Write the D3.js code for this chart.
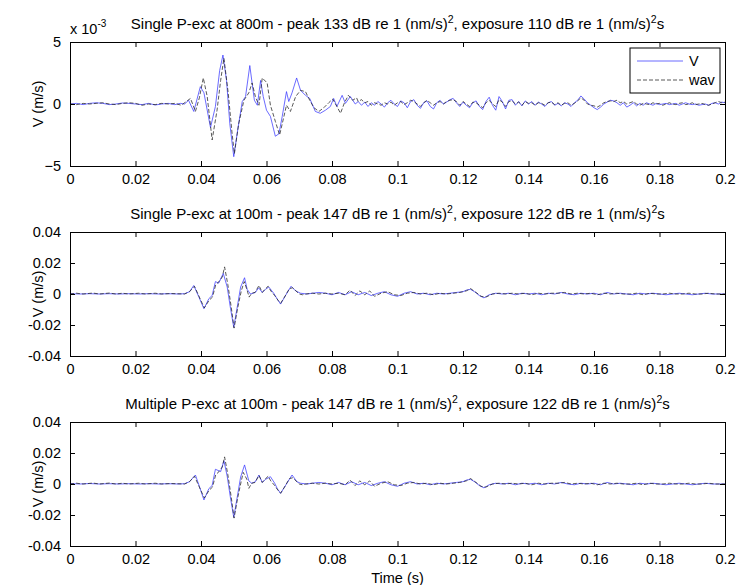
<!DOCTYPE html>
<html><head><meta charset="utf-8">
<script src="https://cdn.jsdelivr.net/npm/d3@7"></script>
<style>body{margin:0;background:#fff} text{font-family:"Liberation Sans",Arial,sans-serif;fill:#000}</style>
</head><body><svg id="c" width="739" height="585"></svg>
<script>
// ---------- tick labels / text ----------
const xTicks = [0, 0.02, 0.04, 0.06, 0.08, 0.1, 0.12, 0.14, 0.16, 0.18, 0.2];
const yTicksPanel1 = [-5e-3, 0, 5e-3];
const yTicksPanel23 = [-0.04, -0.02, 0, 0.02, 0.04];
const titles = [
  "Single P-exc at 800m - peak 133 dB re 1 (nm/s)^2, exposure 110 dB re 1 (nm/s)^2s",
  "Single P-exc at 100m - peak 147 dB re 1 (nm/s)^2, exposure 122 dB re 1 (nm/s)^2s",
  "Multiple P-exc at 100m - peak 147 dB re 1 (nm/s)^2, exposure 122 dB re 1 (nm/s)^2s"
];
const seriesNames = ["V", "wav"];

// ---------- data: [time in ms, velocity in 10^-3 m/s] ----------
const p1V = [[0,0],[2,0.05],[4,-0.05],[6,0.05],[8,0.1],[10,0.05],[12,-0.05],[14,0],[16,0.08],[18,0.05],[20,0],[22,-0.05],[24,0.05],[26,-0.08],[28,0],[30,0.05],[32,-0.05],[33.7,0.05],[35,0],[36.2,0.3],[37.8,-0.6],[39.8,1.4],[40.9,0.9],[42.9,-1.9],[44.4,-0.2],[45.7,2.7],[46.7,3.95],[47.8,1.9],[48.8,-1.6],[50.0,-4.25],[51.2,-2.1],[52.6,0.2],[53.6,0.6],[54.9,3.1],[55.6,1.7],[56.3,0.3],[57.2,-0.1],[58.2,1.9],[59.0,0.6],[60,-0.5],[61.2,-1.0],[62.7,-2.6],[63.8,-2.4],[64.8,-1.0],[66.1,1.0],[66.8,0.2],[67.8,0.9],[69.2,2.1],[70.4,1.1],[71.9,0.7],[73.2,0.45],[74.9,-0.6],[76.4,-0.75],[78,-0.5],[79.5,-0.2],[80.5,0.45],[81.5,-0.2],[83.1,0.7],[84.1,0.05],[85.6,0.6],[87.1,0],
[88,0.2],[89,-0.1],[90,0.15],[91,-0.2],[92,0.1],[93,-0.1],[94,0.2],[95,0],[96,-0.25],[97,0.1],[98,0.3],[99,0],[100,-0.2],[101,0.25],[102,0.1],[103,-0.3],[104,0.2],[105,0.35],[106,-0.1],[107,-0.35],[108,0.1],[109,0.25],[110,-0.2],[111,-0.4],[112,0.1],[113,0.3],[114,0],[115,0.15],[116,0.35],[117,0.45],[118,0.1],[119,-0.2],[120,0.15],[121,-0.1],[122,-0.3],[123,0.1],[124,0.25],[125,-0.2],[126,-0.45],[127,0.2],[128,0.55],[129,-0.1],[130,-0.5],[131,0.6],[132,0.2],[133,-0.4],[134,0.3],[135,0.35],[136,-0.1],[137,0.2],[138,-0.15],[139,0.25],[140,0],[141,0.2],[142,-0.1],[143,0.15],[144,0],[145,-0.2],[146,0.1],[147,0.2],[148,-0.1],[149,0.05],[150,-0.15],[151,0.1],[152,0],[153,-0.2],[154,0.1],[155,0.3],[156,0.65],[157,0.4],[158,0.1],[159,-0.1],[160,-0.3],[161,-0.45],[162,-0.25],[163,0],[164,0.15],[165,0.3],[166,0.25],[167,0.1],[168,-0.1],[169,0.1],[170,-0.25],[171,-0.1],[172,0.1],[173,-0.15],[174,0.05],[175,-0.1],[176,0.1],[177,0],[178,-0.1],[179,0.05],[180,-0.05],[181,0],[182,0.05],[183,-0.05],[184,0],[185,0.05],[186,-0.1],[187,0],[188,0.1],[189,0],[190,-0.05],[191,0],[192,-0.1],[193,-0.05],[194,0],[195,-0.1],[196,0.05],[197,0.1],[198,0],[199,0.15],[200,0.1]];

const p1Wav = [[0,0],[2,-0.05],[4,0.05],[6,0],[8,0.05],[10,0.1],[12,0],[14,-0.05],[16,0.05],[18,0.1],[20,0.05],[22,-0.1],[24,0],[26,-0.05],[28,0.05],[30,0],[32,0.05],[34,-0.1],[35.5,0.2],[36.8,0.45],[38.3,-0.6],[39.5,0.5],[40.7,2.1],[41.9,0.6],[43.4,-2.9],[44.9,-0.5],[46,1.9],[47.0,3.7],[48.3,0.9],[49.5,-2.4],[50.2,-4.0],[51.5,-1.6],[53.1,0.3],[54.6,0.9],[55.6,1.7],[56.6,0.6],[57.7,-0.1],[58.7,2.1],[60.2,1.7],[61.2,-0.1],[62.7,-1.4],[64,-2.5],[64.8,-1.6],[66.1,-0.1],[67.3,-0.6],[68.9,0.6],[70.4,1.1],[71.9,1.0],[73.2,0.3],[74.5,-0.3],[76,-0.6],[77.5,-0.3],[79,0.1],[80.2,0.4],[81.5,-0.2],[82.6,-0.75],[83.8,0.1],[85,0.7],[86.3,0.3],[87.5,0.5],
[88,0.2],[89,0.35],[90,0.1],[91,0.2],[92,-0.1],[93,0.1],[94,0],[95,-0.1],[96,0.1],[97,0],[98,0.15],[99,-0.1],[100,0.1],[101,0.2],[102,-0.05],[103,0.1],[104,0.3],[105,0.2],[106,0],[107,-0.2],[108,0.1],[109,0.3],[110,0.1],[111,-0.1],[112,0.1],[113,0.2],[114,0],[115,0.2],[116,0.3],[117,0.35],[118,0.2],[119,-0.1],[120,0.2],[121,0],[122,-0.2],[123,0.15],[124,0.1],[125,-0.1],[126,-0.3],[127,0.1],[128,0.3],[129,0],[130,-0.2],[131,0.35],[132,0.15],[133,-0.2],[134,0.2],[135,0.25],[136,0],[137,0.15],[138,-0.1],[139,0.2],[140,0.05],[141,0.1],[142,-0.1],[143,0.1],[144,0.05],[145,-0.1],[146,0.1],[147,0.15],[148,-0.05],[149,0.1],[150,-0.1],[151,0.05],[152,0.1],[153,-0.1],[154,0.05],[155,0.25],[156,0.5],[157,0.3],[158,0],[159,-0.1],[160,-0.15],[161,-0.25],[162,-0.1],[163,0.1],[164,0.2],[165,0.25],[166,0.2],[167,0.3],[168,0.1],[169,0.2],[170,0],[171,0.1],[172,0.2],[173,0],[174,-0.1],[175,0.05],[176,0],[177,-0.05],[178,0.1],[179,0],[180,0.05],[181,-0.1],[182,0],[183,0.1],[184,0],[185,-0.05],[186,0.05],[187,0.1],[188,-0.05],[189,0],[190,0.1],[191,-0.05],[192,0],[193,0.05],[194,-0.05],[195,-0.1],[196,0],[197,0.1],[198,0.2],[199,0.1],[200,0.15]];

const p2V = [[0,0.2],[3,0],[6,0.2],[9,0],[12,0.2],[15,0],[18,0.2],[21,0],[24,0.2],[27,0],[30,0.2],[33,0],[35,0.2],[36.5,1.5],[37.8,5.5],[39.3,-1.7],[40.9,-9.5],[42.4,-3],[43.4,-1],[44.4,8],[45.4,7],[46.8,13.3],[48,4.5],[49,-9.2],[50,-21.5],[51.1,-8],[52.1,4.5],[53.3,10.5],[54.1,3],[55.1,0],[56.6,1],[57.6,4],[58.7,1],[59.7,3],[60.7,4.5],[62.2,0.5],[63.2,-3],[64.3,-6.5],[65.8,-1],[67.5,5],[68.9,2],[70.4,0.5],[72.3,0],[74,0.5],
[76,1],[78,0.5],[80,-0.5],[82,1],[84,-0.5],[86,1.5],[88,-0.5],[90,1],[92,-1],[94,0.5],[96,1.5],[98,-0.5],[100,-1.5],[102,0.5],[104,1.5],[106,0],[108,0.5],[110,-0.5],[112,0.5],[114,0],[116,0.5],[118,1],[120,1.5],[121,2.5],[122.3,3],[123.5,1.5],[125,-1],[126.4,-2.5],[128,-0.5],[130,0.5],[132,0],[134,0.5],[136,-0.5],[138,0.5],[140,0],[142,0.5],[144,-0.5],[146,0.5],[148,0],[150,1],[152,0],[154,-0.5],[156,0.5],[158,0],[160,0.5],[162,-0.5],[164,1],[166,0],[168,0.5],[170,0],[172,-0.5],[174,0.5],[176,0],[178,0.5],[180,0],[182,-0.5],[184,0],[186,0.5],[188,0],[190,-0.5],[192,0],[194,0.5],[196,0],[198,0],[200,0]];

const p2Wav = [[0,0],[2,0.5],[4,0],[7,0.6],[9,0],[12,0.6],[14,0],[16,0.5],[18,0],[21,0.5],[23,0],[26,0.5],[28,0],[31,0.3],[35,0],[36.5,1.5],[38,5],[39.5,-2],[41,-9],[42.5,-4],[43.5,-2],[44.5,6],[45.5,8],[46.5,11],[47.2,17.5],[48.2,6],[49.2,-8],[50.1,-22],[51.2,-9],[52.3,2],[53.2,8],[54,3],[54.7,-2],[55.5,0.5],[56.5,1],[57.7,5.5],[58.7,1],[59.5,3],[60.5,5],[61.3,2],[62.5,-1],[63.5,-4],[64.3,-6],[65.5,-2],[67,3.5],[68,4],[69,2],[70,0],[71,-0.5],[72,0],[74,0.5],
[76,0],[78,0.5],[80,0],[82,0.5],[84,-0.5],[85.5,2.5],[87,-1],[88.5,2],[90,-0.5],[91.5,2],[93,-1.5],[95,0.5],[97,1.5],[99,-0.5],[101,-1],[103,0.5],[105,1],[107,0],[109,0.5],[111,-0.5],[113,0.5],[115,0],[117,0.5],[119,1],[121,2],[122.3,3.5],[124,1],[125.5,-1.5],[127,-2],[129,0],[131,0.5],[133,0],[135,0.5],[137,0],[139,0.5],[141,-0.5],[143,0.5],[145,0],[147,0.5],[149,0.5],[151,1],[153,0],[155,0.5],[157,0],[159,0.5],[161,-0.5],[163,0.5],[165,0],[167,0.5],[169,0],[171,0],[173,0.5],[175,-0.5],[177,0.5],[179,0],[181,0],[183,0.5],[185,0],[187,0],[189,0.5],[191,0],[193,0],[195,0.5],[197,0],[200,0]];

const p3V = [[0,0.3],[3,0],[6,0.3],[9,0],[12,0.2],[15,0],[18,0.2],[21,0],[24,0.2],[27,0],[30,0.2],[33,0],[35,0.2],[36.5,1.5],[38.3,5.8],[39.5,-1.5],[40.9,-10.3],[42.4,-3],[43.4,-1],[44.4,9.5],[46,8],[47,15],[48,5],[49,-9],[50,-21.5],[51.1,-8],[52.1,4.5],[53.3,12.3],[54.6,2],[55.5,0.5],[56.6,1.5],[57.7,5.8],[58.7,1],[59.7,3],[61.2,4.7],[62.5,0.5],[63.3,-3],[64.3,-6],[65.8,-1],[67.8,5.8],[69.3,1.5],[70.4,0.5],[72.3,0],[74,0.5],
[76,1],[78,0.5],[80,-0.5],[82,1],[84,-0.5],[86,1.5],[88,-0.5],[90,1],[92,-1],[94,0.5],[96,1.5],[98,-0.5],[100,-1.5],[102,0.5],[104,1.5],[106,0],[108,0.5],[110,-0.5],[112,0.5],[114,0],[116,0.5],[118,1],[120,1.5],[121,2.5],[122.3,3],[123.5,1.5],[125,-1],[126.4,-2.5],[128,-0.5],[130,0.5],[132,0],[134,0.5],[136,-0.5],[138,0.5],[140,0],[142,0.5],[144,-0.5],[146,0.5],[148,0],[150,1],[152,0],[154,-0.5],[156,0.5],[158,0],[160,0.5],[162,-0.5],[164,1],[166,0],[168,0.5],[170,0],[172,-0.5],[174,0.5],[176,0],[178,0.5],[180,0],[182,-0.5],[184,0],[186,0.5],[188,0],[190,-0.5],[192,0],[194,0.5],[196,0],[198,0],[200,0]];

const p3Wav = [[0,0],[2,0.5],[4,0],[7,0.6],[9,0],[12,0.6],[14,0],[16,0.5],[18,0],[21,0.5],[23,0],[26,0.5],[28,0],[31,0.3],[35,0],[36.5,1.5],[38,5],[39.5,-2],[41,-9],[42.5,-4],[43.5,-2],[44.5,6],[45.5,8],[46.5,11],[47.2,17.5],[48.2,6],[49.2,-8],[50.1,-22],[51.2,-9],[52.3,2],[52.9,7.5],[54,3],[54.6,-2.8],[55.5,0.5],[56.5,1],[57.7,5.5],[58.7,1],[59.5,3],[60.5,5],[61.3,2],[62.5,-1],[63.5,-4],[64.3,-6],[65.5,-2],[67,3.5],[68,4],[69,2],[70,0],[71,-0.5],[72,0],[74,0.5],
[76,0],[78,0.5],[80,0],[82,0.5],[84,-0.5],[85.5,2.5],[87,-1],[88.5,2],[90,-0.5],[91.5,2],[93,-1.5],[95,0.5],[97,1.5],[99,-0.5],[101,-1],[103,0.5],[105,1],[107,0],[109,0.5],[111,-0.5],[113,0.5],[115,0],[117,0.5],[119,1],[121,2],[122.3,3.5],[124,1],[125.5,-1.5],[127,-2],[129,0],[131,0.5],[133,0],[135,0.5],[137,0],[139,0.5],[141,-0.5],[143,0.5],[145,0],[147,0.5],[149,0.5],[151,1],[153,0],[155,0.5],[157,0],[159,0.5],[161,-0.5],[163,0.5],[165,0],[167,0.5],[169,0],[171,0],[173,0.5],[175,-0.5],[177,0.5],[179,0],[181,0],[183,0.5],[185,0],[187,0],[189,0.5],[191,0],[193,0],[195,0.5],[197,0],[200,0]];

// ---------- drawing ----------
const svg = d3.select("#c");
const left = 70, right = 725, ph = 124;
const tops = [42, 232, 422];
const FS = 14.5;
const panels = [
  {v: p1V, w: p1Wav, dom: [-5e-3, 5e-3], ticks: yTicksPanel1, fmt: d => d3.format("d")(d * 1e3), legend: true},
  {v: p2V, w: p2Wav, dom: [-0.04, 0.04], ticks: yTicksPanel23, fmt: d => d === 0 ? "0" : d.toFixed(2)},
  {v: p3V, w: p3Wav, dom: [-0.04, 0.04], ticks: yTicksPanel23, fmt: d => d === 0 ? "0" : d.toFixed(2)}
];
const x = d3.scaleLinear().domain([0, 0.2]).range([left, right]);
const blue = "#3a3aff", dark = "#222";

function addTitle(g, str, cx, y) {
  const t = g.append("text").attr("x", cx).attr("y", y).attr("text-anchor", "middle").attr("font-size", 15);
  const parts = str.split("^2");
  parts.forEach((p, i) => {
    const s = t.append("tspan").text(p);
    if (i > 0) s.attr("dy", 6);
    if (i < parts.length - 1) {
      t.append("tspan").attr("font-size", 10.5).attr("dy", -6).text("2");
    }
  });
}

panels.forEach((p, i) => {
  const top = tops[i], bot = top + ph;
  const y = d3.scaleLinear().domain(p.dom).range([bot, top]);
  const g = svg.append("g");
  g.append("rect").attr("x", left).attr("y", top).attr("width", right - left).attr("height", ph).attr("fill", "#fff");
  const line = d3.line().x(d => x(d[0] / 1000)).y(d => y(d[1] * 1e-3));
  g.append("path").datum(p.v).attr("d", line).attr("fill", "none").attr("stroke", blue).attr("stroke-width", 0.75);
  g.append("path").datum(p.w).attr("d", line).attr("fill", "none").attr("stroke", dark).attr("stroke-width", 0.75).attr("stroke-dasharray", "4,2");
  const ax = g.append("g").attr("transform", `translate(0,${bot})`).call(d3.axisBottom(x).tickValues(xTicks).tickSize(-5).tickPadding(8).tickFormat(d => d === 0 ? "0" : d3.format("~g")(d)));
  const axT = g.append("g").attr("transform", `translate(0,${top})`).call(d3.axisTop(x).tickValues(xTicks).tickSize(-5).tickFormat(""));
  const ayL = g.append("g").attr("transform", `translate(${left},0)`).call(d3.axisLeft(y).tickValues(p.ticks).tickSize(-5).tickPadding(9).tickFormat(p.fmt));
  const ayR = g.append("g").attr("transform", `translate(${right},0)`).call(d3.axisRight(y).tickValues(p.ticks).tickSize(-5).tickFormat(""));
  [ax, axT, ayL, ayR].forEach(a => {
    a.select(".domain").attr("stroke", "#000").attr("stroke-width", 1);
    a.selectAll(".tick line").attr("stroke", "#000");
    a.selectAll("text").attr("font-size", FS).attr("font-family", '"Liberation Sans",Arial,sans-serif').attr("fill", "#000");
  });
  g.append("text").attr("transform", `translate(${43},${(top + bot) / 2}) rotate(-90)`).attr("text-anchor", "middle").attr("font-size", FS).text("V (m/s)");
  addTitle(g, titles[i], (left + right) / 2, top - 13);
  if (i === 0) {
    const e = g.append("text").attr("x", 70).attr("y", 34).attr("font-size", FS);
    e.append("tspan").text("x 10");
    e.append("tspan").attr("font-size", 10).attr("dy", -7).text("-3");
  }
  if (p.legend) {
    const lg = g.append("g");
    lg.append("rect").attr("x", 630).attr("y", 48).attr("width", 90).attr("height", 45).attr("fill", "#fff").attr("stroke", "#000").attr("stroke-width", 1);
    const rows = [{n: seriesNames[0], c: blue, dash: null, y: 61}, {n: seriesNames[1], c: dark, dash: "4,2", y: 80}];
    rows.forEach(r => {
      lg.append("line").attr("x1", 637).attr("x2", 683).attr("y1", r.y).attr("y2", r.y).attr("stroke", r.c).attr("stroke-width", 0.75).attr("stroke-dasharray", r.dash);
      lg.append("text").attr("x", 689).attr("y", r.y + 5).attr("font-size", FS).text(r.n);
    });
  }
});
svg.append("text").attr("x", (left + right) / 2).attr("y", 583).attr("text-anchor", "middle").attr("font-size", FS).text("Time (s)");
</script></body></html>
